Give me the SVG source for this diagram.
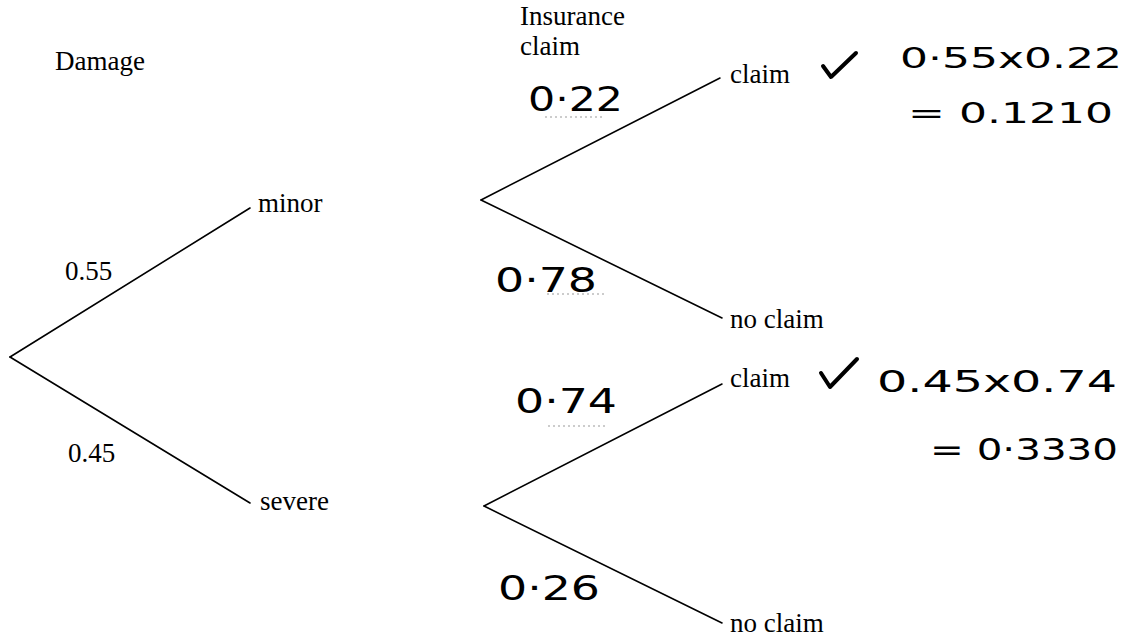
<svg xmlns="http://www.w3.org/2000/svg" width="1138" height="637" viewBox="0 0 1138 637">
<style>
.p{font-family:"Liberation Serif","Times New Roman",serif;font-size:27px;fill:#000}
.h{font-family:"DejaVu Sans","Noto Sans",sans-serif;fill:#000}
.br{stroke:#000;stroke-width:1.6;fill:none;stroke-linecap:round}
.dot{stroke:#999;stroke-width:1;stroke-dasharray:2 3;fill:none}
.tick{stroke:#000;stroke-width:4;fill:none;stroke-linecap:round;stroke-linejoin:round}
</style>
<rect width="1138" height="637" fill="#fff"/>
<g id="connectors">
<line class="br" x1="10" y1="357" x2="250" y2="208"/>
<line class="br" x1="10" y1="357" x2="250" y2="503"/>
<line class="br" x1="481" y1="200" x2="720" y2="78"/>
<line class="br" x1="481" y1="200" x2="722" y2="318"/>
<line class="br" x1="484" y1="506" x2="722" y2="384"/>
<line class="br" x1="484" y1="506" x2="722" y2="623"/>
</g>
<g id="headers">
<text class="p" x="55" y="70">Damage</text>
<text class="p" x="520" y="25">Insurance</text>
<text class="p" x="520" y="55">claim</text>
</g>
<g id="root-branches">
<text class="p" x="65" y="280">0.55</text>
<text class="p" x="68" y="462">0.45</text>
</g>
<g id="node-minor"><text class="p" x="258" y="212">minor</text></g>
<g id="node-severe"><text class="p" x="260" y="510">severe</text></g>
<g id="node-claim1">
<text class="p" x="730" y="83">claim</text>
<path class="tick" d="M823,66 L831,77 L856,53"/>
<text class="h" x="900" y="68" font-size="28" textLength="222" lengthAdjust="spacingAndGlyphs">0·55x0.22</text>
<text class="h" x="908" y="123" font-size="28" textLength="205" lengthAdjust="spacingAndGlyphs">=  0.1210</text>
</g>
<g id="node-noclaim1"><text class="p" x="730" y="328">no claim</text></g>
<g id="node-claim2">
<text class="p" x="730" y="387">claim</text>
<path class="tick" d="M821,373 L830,387 L857,359"/>
<text class="h" x="877" y="392" font-size="30" textLength="240" lengthAdjust="spacingAndGlyphs">0.45x0.74</text>
<text class="h" x="930" y="460" font-size="30" textLength="188" lengthAdjust="spacingAndGlyphs">=  0·3330</text>
</g>
<g id="node-noclaim2"><text class="p" x="730" y="632">no claim</text></g>
<g id="branch-probs">
<text class="h" x="528" y="111" font-size="34" textLength="95" lengthAdjust="spacingAndGlyphs">0·22</text>
<line class="dot" x1="545" y1="117" x2="605" y2="117"/>
<text class="h" x="495" y="292" font-size="34" textLength="102" lengthAdjust="spacingAndGlyphs">0·78</text>
<line class="dot" x1="547" y1="294" x2="607" y2="294"/>
<text class="h" x="515" y="413" font-size="34" textLength="102" lengthAdjust="spacingAndGlyphs">0·74</text>
<line class="dot" x1="548" y1="426" x2="607" y2="426"/>
<text class="h" x="498" y="600" font-size="34" textLength="102" lengthAdjust="spacingAndGlyphs">0·26</text>
</g>
</svg>
